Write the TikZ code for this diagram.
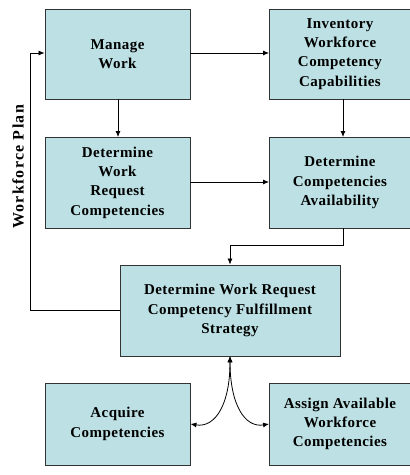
\documentclass[tikz,border=0pt]{standalone}
\usepackage{fontspec}
\setmainfont{Liberation Serif}
\newfontfamily\boxfont[LetterSpace=3]{Liberation Serif}
\newfontfamily\sidefont[LetterSpace=8]{Liberation Serif}
\usetikzlibrary{arrows.meta}
\definecolor{boxfill}{HTML}{BCE0E3}
\begin{document}
\begin{tikzpicture}[x=1pt,y=-1pt,
  box/.style={draw=black!80,line width=0.9pt,fill=boxfill,align=center,inner sep=0pt,
    font=\boxfont\fontsize{15}{19.3}\selectfont\bfseries},
  conn/.style={line width=0.8pt,-{Latex[length=6pt,width=5pt]}},
  both/.style={line width=0.8pt,{Latex[length=6pt,width=5pt]}-{Latex[length=6pt,width=5pt]}}]
\useasboundingbox (0,0) rectangle (410,475);
\node[box,minimum width=145pt,minimum height=90pt] (mw) at (117.5,54) {Manage\\Work};
\node[box,minimum width=141pt,minimum height=90pt] (iw) at (340,54) {Inventory\\Workforce\\Competency\\Capabilities};
\node[box,minimum width=145pt,minimum height=91pt] (dw) at (117.5,182.5) {Determine\\Work\\Request\\Competencies};
\node[box,minimum width=141pt,minimum height=91pt] (dc) at (340,182.5) {Determine\\Competencies\\Availability};
\node[box,minimum width=220pt,minimum height=91pt] (st) at (230,310.5) {Determine Work Request\\Competency Fulfillment\\Strategy};
\node[box,minimum width=145pt,minimum height=82pt] (ac) at (117.5,424) {Acquire\\Competencies};
\node[box,minimum width=141pt,minimum height=82pt] (as) at (340,424) {Assign Available\\Workforce\\Competencies};
\coordinate (fl) at (30,310.5);
\coordinate (ft) at (30,53);
\coordinate (jr) at (343,245);
\coordinate (jl) at (230,245);
\coordinate (sb) at (230,356);
\draw[conn] (mw.east |- 0,53) -- (iw.west |- 0,53);
\draw[conn] (118,99) -- (118,137);
\draw[conn] (343,99) -- (343,137);
\draw[conn] (dw.east |- 0,182) -- (dc.west |- 0,182);
\draw[conn] (dc.south -| jr) -- (jr) -- (jl) -- (st.north);
\draw[conn] (st.west) -- (fl) -- (ft) -- (mw.west |- ft);
\node[rotate=90,font=\sidefont\fontsize{16}{18}\selectfont\bfseries] (wp) at (18,167) {Workforce Plan};
\draw[both] (st.south) .. controls (230,405) and (215,428) .. (ac.east);
\draw[both] (sb) .. controls (230,405) and (245,428) .. (as.west);
\end{tikzpicture}
\end{document}
